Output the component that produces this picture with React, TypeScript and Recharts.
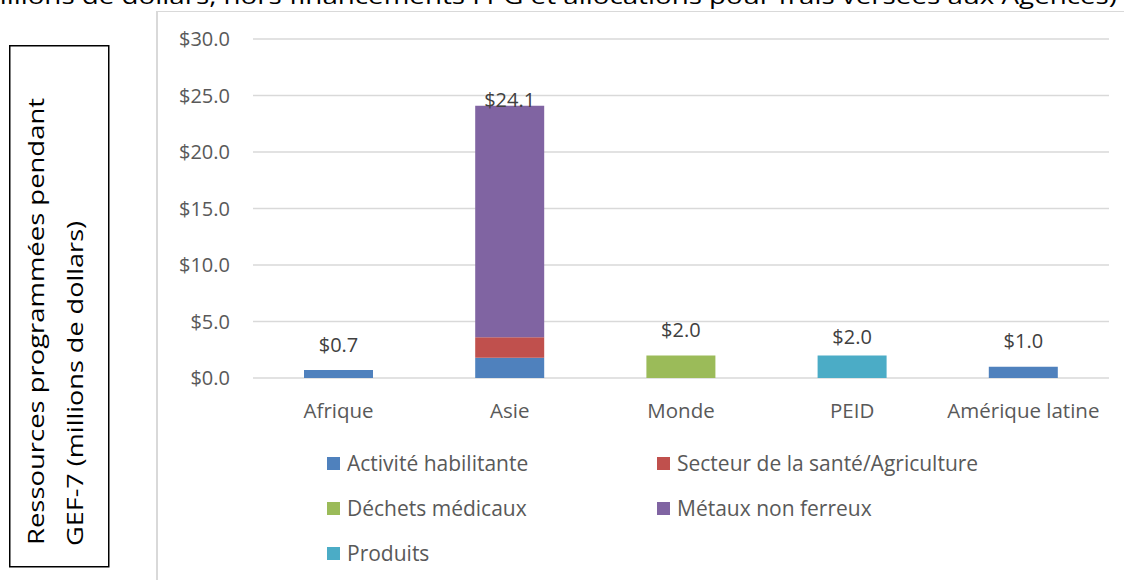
import React from "react";
import { BarChart, Bar, XAxis, YAxis, CartesianGrid, LabelList } from "recharts";

const regions = ["Afrique", "Asie", "Monde", "PEID", "Amérique latine"];
const activiteHabilitante = [0.7, 1.8, 0, 0, 1.0];
const santeAgriculture = [0, 1.8, 0, 0, 0];
const dechetsMedicaux = [0, 0, 2.0, 0, 0];
const metauxNonFerreux = [0, 20.5, 0, 0, 0];
const produits = [0, 0, 0, 2.0, 0];
const yTicks = [0, 5, 10, 15, 20, 25, 30];

const series = [
  { key: "activite", name: "Activité habilitante", values: activiteHabilitante, color: "#4F81BD" },
  { key: "sante", name: "Secteur de la santé/Agriculture", values: santeAgriculture, color: "#C0504D" },
  { key: "dechets", name: "Déchets médicaux", values: dechetsMedicaux, color: "#9BBB59" },
  { key: "metaux", name: "Métaux non ferreux", values: metauxNonFerreux, color: "#8064A2" },
  { key: "produits", name: "Produits", values: produits, color: "#4BACC6" },
];

const data = regions.map((region, i) => {
  const row: Record<string, any> = { region };
  series.forEach((s) => (row[s.key] = s.values[i]));
  row.total = series.reduce((sum, s) => sum + s.values[i], 0);
  return row;
});

// which series sits on top of each stack (gets the total label)
const topKey = regions.map((_, i) => {
  let k = "";
  series.forEach((s) => {
    if (s.values[i] > 0) k = s.key;
  });
  return k;
});

// labels were hand-placed in the original, not all at the same height
const labelLift = [26, 6, 26, 19, 26];

const FONT = "'Open Sans', sans-serif";

const makeTotalLabel = (seriesKey: string) => (props: any) => {
  const i = regions.indexOf(props.value);
  if (i < 0 || topKey[i] !== seriesKey) return null;
  const vb = props.viewBox || props;
  const x = Number(vb.x);
  const y = Number(vb.y);
  const w = Number(vb.width);
  return (
    <text
      x={x + w / 2}
      y={y - labelLift[i]}
      textAnchor="middle"
      dominantBaseline="central"
      fontSize={20}
      fill="#404040"
      fontFamily={FONT}
    >
      {`$${data[i].total.toFixed(1)}`}
    </text>
  );
};

export default function App() {
  return (
    <div
      style={{
        position: "absolute",
        left: 0,
        top: 0,
        width: 1124,
        height: 580,
        background: "#fff",
        overflow: "hidden",
        fontFamily: FONT,
      }}
    >
      {/* clipped title from the page above */}
      <svg style={{ position: "absolute", left: 0, top: 0 }} width={1124} height={11}>
        <text x={-26} y={4} fontSize={22} fill="#000" textLength={1143} lengthAdjust="spacingAndGlyphs">
          millions de dollars, hors financements FPG et allocations pour frais versées aux Agences)
        </text>
      </svg>

      <div
        style={{
          position: "absolute",
          left: 156,
          top: 11,
          width: 1000,
          height: 600,
          borderLeft: "2px solid #d9d9d9",
          borderTop: "1px solid #d9d9d9",
        }}
      />

      {/* boxed axis title */}
      <svg style={{ position: "absolute", left: 0, top: 0 }} width={120} height={580}>
        <rect x={9.75} y={45.75} width={99} height={521} fill="none" stroke="#000" strokeWidth={1.5} />
        <text
          transform="translate(44,545) rotate(-90)"
          fontSize={21}
          fill="#000"
          textLength={447}
          lengthAdjust="spacingAndGlyphs"
        >
          Ressources programmées pendant
        </text>
        <text
          transform="translate(83,546) rotate(-90)"
          fontSize={21}
          fill="#000"
          textLength={325}
          lengthAdjust="spacingAndGlyphs"
        >
          GEF-7 (millions de dollars)
        </text>
      </svg>

      <div style={{ position: "absolute", left: 0, top: 0 }}>
        <BarChart
          width={1124}
          height={580}
          data={data}
          barSize={69}
          margin={{ top: 39, right: 15, bottom: 172, left: 153 }}
          style={{ fontFamily: FONT }}
        >
          <CartesianGrid vertical={false} stroke="#d9d9d9" strokeWidth={1.5} />
          <XAxis
            dataKey="region"
            axisLine={false}
            tickLine={false}
            tickMargin={19}
            tick={{ fontSize: 20.5, fill: "#595959" }}
            interval={0}
          />
          <YAxis
            width={100}
            domain={[0, 30]}
            ticks={yTicks}
            axisLine={false}
            tickLine={false}
            tickMargin={17}
            tick={{ fontSize: 20, fill: "#595959" }}
            tickFormatter={(v: number) => `$${v.toFixed(1)}`}
          />
          {series.map((s) => (
            <Bar key={s.key} dataKey={s.key} name={s.name} stackId="a" fill={s.color} isAnimationActive={false}>
              <LabelList dataKey="region" content={makeTotalLabel(s.key)} />
            </Bar>
          ))}
        </BarChart>
      </div>

      {/* legend, two columns */}
      {series.map((s, i) => {
        const col = i % 2;
        const row = Math.floor(i / 2);
        return (
          <div
            key={s.key}
            style={{
              position: "absolute",
              left: col === 0 ? 327 : 657,
              top: 463 + row * 45 - 15,
              height: 30,
              display: "flex",
              alignItems: "center",
              fontSize: 21,
              color: "#595959",
              whiteSpace: "nowrap",
            }}
          >
            <span style={{ display: "inline-block", width: 13, height: 13, background: s.color, marginRight: 7 }} />
            {s.name}
          </div>
        );
      })}
    </div>
  );
}
